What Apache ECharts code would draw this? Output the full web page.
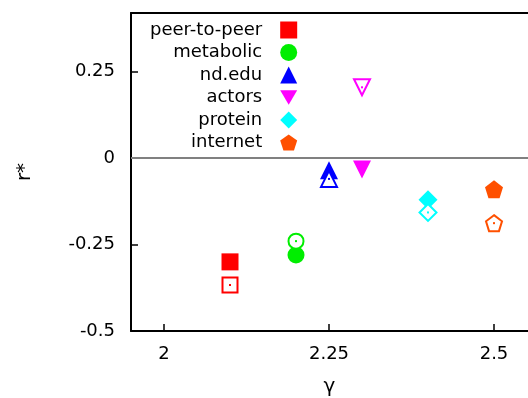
<!DOCTYPE html>
<html>
<head>
<meta charset="utf-8">
<script src="https://cdn.jsdelivr.net/npm/echarts@6/dist/echarts.min.js"></script>
<style>
  html, body { margin: 0; padding: 0; background: #fff; }
  #chart { width: 528px; height: 398px; }
</style>
</head>
<body>
<div id="chart"></div>
<script>
// Networks, their degree exponent gamma, and the assortativity r* (measured vs. model)
const networks = ['peer-to-peer', 'metabolic', 'nd.edu', 'actors', 'protein', 'internet'];
const gamma    = [2.1, 2.2, 2.25, 2.3, 2.4, 2.5];
const rFilled  = [-0.30, -0.28, -0.035, -0.033, -0.12, -0.09];
const rOpen    = [-0.367, -0.24, -0.06, 0.205, -0.157, -0.188];
const colors   = ['#ff0000', '#00ee00', '#0000ff', '#ff00ff', '#00ffff', '#ff5000'];
const yTicks   = [-0.5, -0.25, 0, 0.25];
const xTicks   = [2, 2.25, 2.5];

const pentagon = 'path://M0,-10 L9.51,-3.09 L5.88,8.09 L-5.88,8.09 L-9.51,-3.09 Z';
const downTri  = 'path://M-10,-8 L10,-8 L0,9 Z';
const symbols  = ['rect', 'circle', 'triangle', 'triangle', 'diamond', pentagon];
const rotates  = [0, 0, 0, 180, 0, 0];
const sizes    = [17, 17, 18, 18, 19, 18];
const legendIcons = ['rect', 'circle', 'triangle', downTri, 'diamond', pentagon];

const font = '"DejaVu Sans", "Liberation Sans", sans-serif';

const series = [];
networks.forEach((name, i) => {
  series.push({
    name: name,
    type: 'scatter',
    symbol: symbols[i],
    symbolRotate: rotates[i],
    symbolSize: sizes[i],
    itemStyle: { color: colors[i], opacity: 1 },
    data: [[gamma[i], rFilled[i]]],
    z: 3
  });
  series.push({
    name: name + ' (open)',
    type: 'scatter',
    symbol: symbols[i],
    symbolRotate: rotates[i],
    symbolSize: sizes[i] - 2,
    itemStyle: { color: '#fff', borderColor: colors[i], borderWidth: 2, opacity: 1 },
    data: [[gamma[i], rOpen[i]]],
    z: 3
  });
  series.push({
    name: name + ' (centre)',
    type: 'scatter',
    symbol: 'rect',
    symbolSize: 2,
    itemStyle: { color: colors[i], opacity: 1 },
    data: [[gamma[i], rOpen[i]]],
    z: 4
  });
});

// zero reference line
series[0].markLine = {
  silent: true,
  symbol: 'none',
  label: { show: false },
  lineStyle: { color: '#808080', width: 2, type: 'solid' },
  data: [{ yAxis: 0 }]
};

const chart = echarts.init(document.getElementById('chart'), null, { renderer: 'canvas' });
chart.setOption({
  animation: false,
  backgroundColor: '#fff',
  textStyle: { fontFamily: font },
  grid: {
    left: 131, top: 13, bottom: 67, right: 0,
    show: false, containLabel: false, outerBoundsMode: 'none'
  },
  legend: {
    data: networks.map((n, i) => ({ name: n, icon: legendIcons[i] })),
    orient: 'vertical',
    left: 150,
    top: 21,
    padding: 0,
    align: 'right',
    itemWidth: 17,
    itemHeight: 17,
    itemGap: 4.5,
    formatter: '{t|{name}}',
    textStyle: {
      fontFamily: font,
      fontSize: 18,
      color: '#000',
      rich: { t: { width: 140, align: 'right', fontSize: 18, fontFamily: font, padding: [0, 13, 0, 0] } }
    }
  },
  xAxis: [{
    type: 'value',
    min: 1.95,
    max: 2.5515,
    name: 'γ',
    nameLocation: 'middle',
    nameGap: 46,
    nameTextStyle: { fontSize: 20, color: '#000', fontFamily: font },
    axisLine: { show: true, onZero: false, lineStyle: { color: '#000', width: 2 } },
    axisTick: {
      show: true, inside: true, length: 7, lineStyle: { color: '#000', width: 1.5 },
      customValues: xTicks
    },
    axisLabel: {
      fontSize: 18, color: '#000', margin: 14, fontFamily: font,
      customValues: xTicks,
      formatter: v => String(v)
    },
    splitLine: { show: false }
  }, {
    // top frame edge
    type: 'value',
    position: 'top',
    min: 1.95,
    max: 2.5515,
    axisLine: { show: true, onZero: false, lineStyle: { color: '#000', width: 2 } },
    axisTick: { show: false },
    axisLabel: { show: false },
    splitLine: { show: false }
  }],
  yAxis: {
    type: 'value',
    min: -0.5,
    max: 0.42,
    name: 'r*',
    nameLocation: 'middle',
    nameGap: 96,
    nameRotate: 90,
    nameTextStyle: { fontSize: 20, color: '#000', fontFamily: font },
    axisLine: { show: true, onZero: false, lineStyle: { color: '#000', width: 2 } },
    axisTick: {
      show: true, inside: true, length: 7, lineStyle: { color: '#000', width: 1.5 },
      customValues: yTicks
    },
    axisLabel: {
      fontSize: 18, color: '#000', margin: 16, fontFamily: font,
      customValues: yTicks,
      formatter: v => String(v)
    },
    splitLine: { show: false }
  },
  series: series
});
</script>
</body>
</html>
